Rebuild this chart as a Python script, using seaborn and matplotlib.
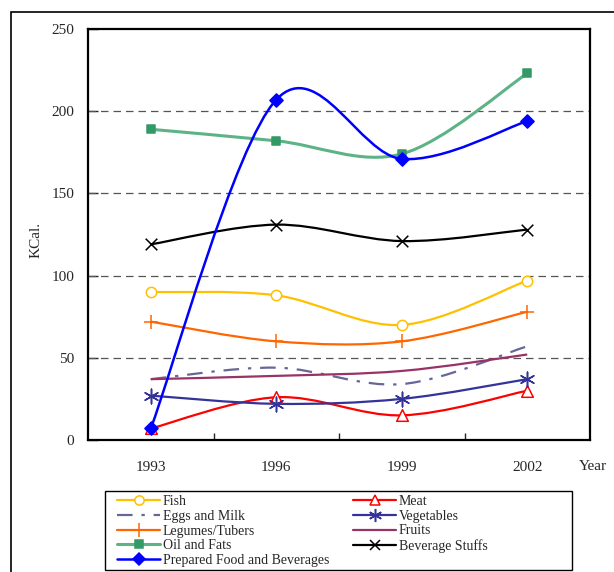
import numpy as np
import pandas as pd
import matplotlib
matplotlib.use("Agg")
import matplotlib.pyplot as plt
from matplotlib.path import Path
from matplotlib.patches import PathPatch, Rectangle
from matplotlib.lines import Line2D
import seaborn as sns

# ---- data (KCal per year) ----
years = ["1993", "1996", "1999", "2002"]
fish = [90, 88, 70, 97]
meat = [7, 26, 15, 30]
eggs_milk = [37, 44, 34, 57]
vegetables = [27, 22, 25, 37]
legumes_tubers = [72, 60, 60, 78]
fruits = [37, 39, 42, 52]
oil_fats = [189, 182, 174, 223]
beverage_stuffs = [119, 131, 121, 128]
prepared_food = [7, 207, 171, 194]
y_ticks = [0, 50, 100, 150, 200, 250]

sns.set_style("white")
plt.rcParams["font.family"] = ["Liberation Serif", "DejaVu Serif"]

W, H = 614, 572
fig = plt.figure(figsize=(W / 100, H / 100), dpi=100)
ax = fig.add_axes([88 / W, 1 - 440 / H, (590 - 88) / W, (440 - 29) / H])

xpos = np.arange(len(years))

# series styling: (label, values, line color, linestyle, lw, marker, marker size, marker face, marker edge)
series = [
    ("Fish", fish, "#FFC000", "-", 1.6, "o", 55, "white", "#FFC000"),
    ("Meat", meat, "#FF0000", "-", 1.6, "^", 70, "white", "#FF0000"),
    ("Eggs and Milk", eggs_milk, "#666699", (0, (7, 4, 1.5, 4)), 1.6, None, 0, None, None),
    ("Vegetables", vegetables, "#333399", "-", 1.6, (6, 2, 0), 110, "#333399", "#333399"),
    ("Legumes/Tubers", legumes_tubers, "#FF6600", "-", 1.6, "+", 110, "#FF6600", "#FF6600"),
    ("Fruits", fruits, "#993366", "-", 1.6, None, 0, None, None),
    ("Oil and Fats", oil_fats, "#5DB386", "-", 2.2, "s", 38, "#339966", "#339966"),
    ("Beverage Stuffs", beverage_stuffs, "#000000", "-", 1.6, "x", 70, "#000000", "#000000"),
    ("Prepared Food and Beverages", prepared_food, "#0000FF", "-", 1.8, "D", 45, "#0000FF", "#0000FF"),
]


def smooth_path(xs, ys):
    """Cubic Bezier path through the points (Catmull-Rom style control points)."""
    pts = np.column_stack([xs, ys]).astype(float)
    n = len(pts)
    verts = [pts[0]]
    codes = [Path.MOVETO]
    for i in range(n - 1):
        p0 = pts[i - 1] if i > 0 else pts[i]
        p1 = pts[i]
        p2 = pts[i + 1]
        p3 = pts[i + 2] if i + 2 < n else pts[i + 1]
        c1 = p1 + (p2 - p0) / 6.0
        c2 = p2 - (p3 - p1) / 6.0
        verts += [c1, c2, p2]
        codes += [Path.CURVE4] * 3
    return Path(verts, codes)


handles = {}
for z, (label, vals, color, ls, lw, marker, msize, mface, medge) in enumerate(series):
    patch = PathPatch(smooth_path(xpos, vals), facecolor="none", edgecolor=color,
                      linestyle=ls, linewidth=lw, zorder=3 + z * 0.1, capstyle="butt")
    ax.add_patch(patch)
    if marker is not None:
        df = pd.DataFrame({"x": xpos, "y": vals})
        sns.scatterplot(data=df, x="x", y="y", ax=ax, marker=marker, s=msize,
                        color=mface, edgecolor=medge, linewidth=1.1,
                        zorder=4 + z * 0.1, legend=False)
    handles[label] = Line2D([0], [0], color=color, linestyle=ls, linewidth=lw,
                            marker=marker if marker is not None else None,
                            markersize=(np.sqrt(msize) * 0.9 if marker is not None else 0),
                            markerfacecolor=mface, markeredgecolor=medge,
                            markeredgewidth=1.1, label=label)

ax.set_xlim(-0.5, len(years) - 0.5)
ax.set_ylim(0, 250)
ax.set_xlabel("")
ax.set_ylabel("")

# grid lines
for v in y_ticks[1:-1]:
    ax.axhline(v, color="#555555", linestyle=(0, (6, 4)), linewidth=0.9, zorder=1)

ax.set_yticks(y_ticks)
ax.set_yticklabels([str(v) for v in y_ticks])
ax.set_xticks(xpos)
ax.set_xticklabels(years)
ax.set_xticks(xpos[:-1] + 0.5, minor=True)
ax.tick_params(axis="x", which="major", length=0, pad=15, labelsize=11)
ax.tick_params(axis="x", which="minor", length=5, width=1.0, direction="in", bottom=True)
ax.tick_params(axis="y", which="major", length=7, width=1.0, direction="in", left=True,
               pad=10, labelsize=11)

for sp in ax.spines.values():
    sp.set_color("black")
    sp.set_linewidth(1.6)

fig.text(36 / W, 1 - 240 / H, "KCal.", rotation=90, ha="center", va="center", fontsize=11)
fig.text(593 / W, 1 - 466 / H, "Year", ha="center", va="center", fontsize=11)

# legend is filled column by column, so order entries to read row-wise in two columns
legend_order = ["Fish", "Eggs and Milk", "Legumes/Tubers", "Oil and Fats",
                "Prepared Food and Beverages",
                "Meat", "Vegetables", "Fruits", "Beverage Stuffs"]
leg = fig.legend(handles=[handles[k] for k in legend_order], ncol=2, loc="upper left",
                 bbox_to_anchor=(113 / W, 1 - 491 / H),
                 frameon=False, fontsize=10,
                 handlelength=3.1, handletextpad=0.2, labelspacing=0.12,
                 borderpad=0.3, columnspacing=1.7, borderaxespad=0)

# legend box
fig.add_artist(Rectangle((105 / W, 1 - 570 / H), (572 - 105) / W, 79 / H,
                         transform=fig.transFigure, fill=False, edgecolor="black",
                         linewidth=1.0, zorder=0))

# outer frame
fig.add_artist(Rectangle((11 / W, -0.1), 1.2, 1 - 12 / H + 0.1, transform=fig.transFigure,
                         fill=False, edgecolor="black", linewidth=1.2))

fig.savefig("out.png", dpi=100)
